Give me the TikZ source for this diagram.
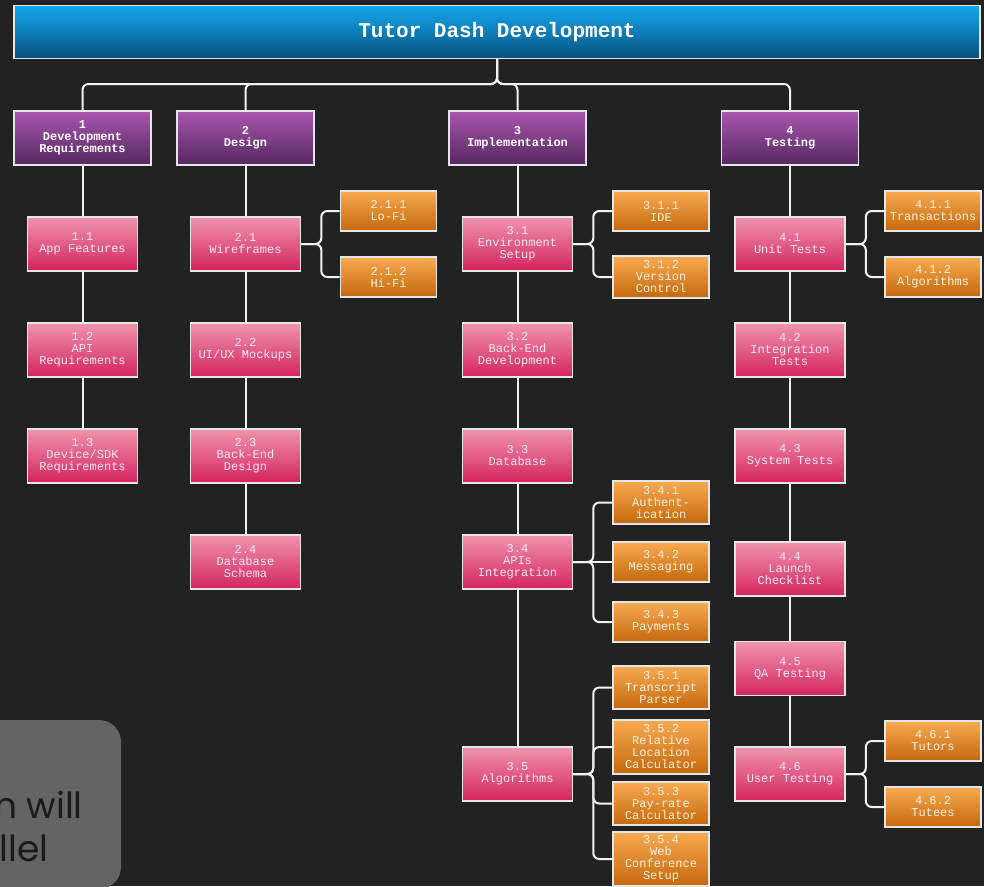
\documentclass[tikz,border=0pt]{standalone}
\usepackage{fontspec}
\setmonofont{Liberation Mono}
\newfontfamily\notefont{Poppins}
\usetikzlibrary{positioning}

% palette
\definecolor{canvas}{HTML}{222222}
\definecolor{edge}{HTML}{E6E6E6}
\definecolor{wire}{HTML}{F2F2F2}
\definecolor{rootTop}{HTML}{14A8F0}
\definecolor{rootBot}{HTML}{06507E}
\definecolor{phTop}{HTML}{AA56B0}
\definecolor{phBot}{HTML}{562860}
\definecolor{tkTop}{HTML}{F094AE}
\definecolor{tkBot}{HTML}{D4245E}
\definecolor{tkText}{HTML}{FDEAF0}
\definecolor{sbTop}{HTML}{F9AA50}
\definecolor{sbBot}{HTML}{C4680C}
\definecolor{sbText}{HTML}{FFF2E4}
\definecolor{noteGray}{HTML}{646464}
\definecolor{noteInk}{HTML}{1A1A1A}

\tikzset{
  box/.style={draw=edge, line width=1.6pt, align=center, inner sep=0pt,
    font=\ttfamily\fontsize{12}{12}\selectfont},
  rootbox/.style={box, top color=rootTop, bottom color=rootBot,
    minimum width=966pt, minimum height=53pt, text=white,
    font=\ttfamily\bfseries\fontsize{21}{21}\selectfont},
  phase/.style={box, top color=phTop, bottom color=phBot,
    minimum width=137pt, minimum height=54pt, text=white,
    font=\ttfamily\bfseries\fontsize{12}{12}\selectfont},
  task/.style={box, top color=tkTop, bottom color=tkBot,
    minimum width=110pt, minimum height=54pt, text=tkText},
  sub/.style={box, top color=sbTop, bottom color=sbBot,
    minimum width=96pt, minimum height=40pt, text=sbText},
  link/.style={draw=wire, line width=2pt, rounded corners=6pt},
  notetext/.style={text=noteInk, inner sep=0pt,
    font=\notefont\fontsize{36}{36}\selectfont},
}

\begin{document}
\begin{tikzpicture}[x=1pt, y=-1pt]
  \useasboundingbox (0,0) rectangle (984,886);
  \fill[canvas] (0,0) rectangle (984,886);

  % side note, partly outside the page
  \begin{scope}
    \clip (0,0) rectangle (984,886);
    \fill[noteGray, rounded corners=22pt] (-60,720) rectangle (121,889);
    \node[notetext, anchor=base east] (noteA) at (83,818) {n will};
    \node[notetext, anchor=base east] (noteB) at (49,861) {llel};
  \end{scope}

  % root
  \node[rootbox] (root) at (497,32) {Tutor Dash Development};

  % phases
  \node[phase] (p1) at (82.5,138) {1\\Development\\Requirements};
  \node[phase] (p2) at (245.5,138) {2\\Design};
  \node[phase] (p3) at (517.5,138) {3\\Implementation};
  \node[phase] (p4) at (790,138) {4\\Testing};

  % column 1
  \node[task] (t11) at (82.5,244) {1.1\\App Features};
  \node[task] (t12) at (82.5,350) {1.2\\API\\Requirements};
  \node[task] (t13) at (82.5,456) {1.3\\Device/SDK\\Requirements};

  % column 2
  \node[task] (t21) at (245.5,244) {2.1\\Wireframes};
  \node[task] (t22) at (245.5,350) {2.2\\UI/UX Mockups};
  \node[task] (t23) at (245.5,456) {2.3\\Back-End\\Design};
  \node[task] (t24) at (245.5,562) {2.4\\Database\\Schema};
  \node[sub] (s211) at (388.5,211) {2.1.1\\Lo-Fi};
  \node[sub] (s212) at (388.5,277) {2.1.2\\Hi-Fi};

  % column 3
  \node[task] (t31) at (517.5,244) {3.1\\Environment\\Setup};
  \node[task] (t32) at (517.5,350) {3.2\\Back-End\\Development};
  \node[task] (t33) at (517.5,456) {3.3\\Database};
  \node[task] (t34) at (517.5,562) {3.4\\APIs\\Integration};
  \node[task] (t35) at (517.5,774) {3.5\\Algorithms};
  \node[sub] (s311) at (661,211) {3.1.1\\IDE};
  \node[sub, minimum height=42pt] (s312) at (661,277) {3.1.2\\Version\\Control};
  \node[sub, minimum height=43pt] (s341) at (661,502.5) {3.4.1\\Authent-\\ication};
  \node[sub] (s342) at (661,562) {3.4.2\\Messaging};
  \node[sub] (s343) at (661,622) {3.4.3\\Payments};
  \node[sub, minimum height=43pt] (s351) at (661,687.5) {3.5.1\\Transcript\\Parser};
  \node[sub, minimum height=54pt] (s352) at (661,747) {3.5.2\\Relative\\Location\\Calculator};
  \node[sub, minimum height=43pt] (s353) at (661,803.5) {3.5.3\\Pay-rate\\Calculator};
  \node[sub, minimum height=54pt] (s354) at (661,859) {3.5.4\\Web\\Conference\\Setup};

  % column 4
  \node[task] (t41) at (790,244) {4.1\\Unit Tests};
  \node[task] (t42) at (790,350) {4.2\\Integration\\Tests};
  \node[task] (t43) at (790,456) {4.3\\System Tests};
  \node[task] (t44) at (790,569) {4.4\\Launch\\Checklist};
  \node[task] (t45) at (790,668.5) {4.5\\QA Testing};
  \node[task] (t46) at (790,774) {4.6\\User Testing};
  \node[sub] (s411) at (933,211) {4.1.1\\Transactions};
  \node[sub] (s412) at (933,277) {4.1.2\\Algorithms};
  \node[sub] (s461) at (933,741) {4.6.1\\Tutors};
  \node[sub] (s462) at (933,807) {4.6.2\\Tutees};

  % root to phases
  \coordinate (bus) at (497,84);
  \foreach \p in {p1,p2,p3,p4}
    \draw[link] (root.south) -- (bus) -| (\p.north);

  % vertical chains
  \foreach \a/\b in {p1/t11, t11/t12, t12/t13,
                     p2/t21, t21/t22, t22/t23, t23/t24,
                     p3/t31, t31/t32, t32/t33, t33/t34, t34/t35,
                     p4/t41, t41/t42, t42/t43, t43/t44, t44/t45, t45/t46}
    \draw[link] (\a.south) -- (\b.north);

  % brackets out to sub-tasks
  \foreach \a/\b in {t21/s211, t21/s212, t31/s311, t31/s312,
                     t34/s341, t34/s343,
                     t35/s351, t35/s352, t35/s353, t35/s354,
                     t41/s411, t41/s412, t46/s461, t46/s462}
    \draw[link] (\a.east) -- ++(20,0) |- (\b.west);
  \draw[link] (t34.east) -- (s342.west);
\end{tikzpicture}
\end{document}
